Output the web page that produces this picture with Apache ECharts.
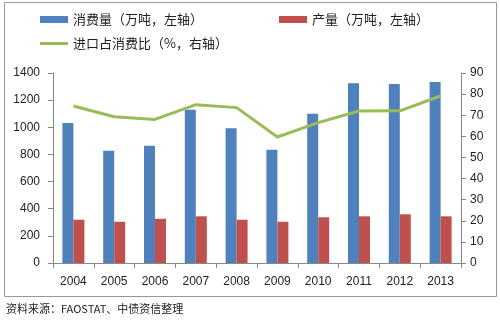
<!DOCTYPE html>
<html><head><meta charset="utf-8">
<script src="https://cdn.jsdelivr.net/npm/echarts@6/dist/echarts.min.js"></script>
<style>html,body{margin:0;padding:0;background:#fff}#c{width:500px;height:321px}</style>
</head><body><div id="c"></div>
<script>
var years = ['2004','2005','2006','2007','2008','2009','2010','2011','2012','2013'];
var consumption = [1032, 828, 864, 1130, 993, 835, 1100, 1324, 1319, 1334];
var production = [319, 304, 326, 344, 319, 304, 337, 344, 359, 344];
var importRatio = [74.4, 69.3, 68.0, 75.0, 73.6, 59.7, 66.5, 72.0, 72.1, 79.1];
var leftTicks = {min: 0, max: 1400, interval: 200};
var rightTicks = {min: 0, max: 90, interval: 10};
var names = ['消费量（万吨，左轴）', '产量（万吨，左轴）', '进口占消费比（%，右轴）'];
var source = '资料来源：FAOSTAT、中债资信整理';

var font = '"Noto Sans CJK SC", "DejaVu Sans", sans-serif';
var chart = echarts.init(document.getElementById('c'), null, {renderer: 'canvas'});
var axisLabel = {color: '#222', fontSize: 12, fontFamily: '"Liberation Sans", Arial, sans-serif'};
var legendText = {color: '#222', fontSize: 13, fontFamily: font};
function plain(v) { return String(v); }
chart.setOption({
  animation: false,
  textStyle: {fontFamily: font},
  graphic: [
    {type: 'rect', shape: {x: 4.5, y: 2.5, width: 492, height: 294}, style: {fill: 'none', stroke: '#999', lineWidth: 1}, z: -1},
    {type: 'text', left: 6, top: 303, style: {text: source, fontSize: 11, fill: '#222', fontFamily: font}}
  ],
  legend: [
    {data: [names[0]], left: 40, top: 13, icon: 'rect', itemWidth: 28, itemHeight: 7, textStyle: legendText, padding: 0},
    {data: [names[1]], left: 279, top: 13, icon: 'rect', itemWidth: 28, itemHeight: 7, textStyle: legendText, padding: 0},
    {data: [names[2]], left: 40, top: 37, icon: 'rect', itemWidth: 28, itemHeight: 3, textStyle: legendText, padding: 0}
  ],
  grid: {left: 53, right: 39, top: 73, bottom: 58},
  xAxis: {
    type: 'category', data: years, boundaryGap: true,
    axisLine: {lineStyle: {color: '#888'}},
    axisTick: {show: true, length: 5, lineStyle: {color: '#888'}},
    axisLabel: Object.assign({margin: 13}, axisLabel)
  },
  yAxis: [
    {type: 'value', min: leftTicks.min, max: leftTicks.max, interval: leftTicks.interval,
     axisLine: {show: true, lineStyle: {color: '#888'}}, axisTick: {show: true, length: 5, lineStyle: {color: '#888'}},
     splitLine: {show: false}, axisLabel: Object.assign({margin: 13, formatter: plain}, axisLabel)},
    {type: 'value', min: rightTicks.min, max: rightTicks.max, interval: rightTicks.interval, position: 'right',
     axisLine: {show: true, lineStyle: {color: '#888'}}, axisTick: {show: true, length: 5, lineStyle: {color: '#888'}},
     splitLine: {show: false}, axisLabel: Object.assign({margin: 9, formatter: plain}, axisLabel)}
  ],
  series: [
    {name: names[0], type: 'bar', data: consumption, barWidth: 11, barGap: '0%', itemStyle: {color: '#4F81BD'}},
    {name: names[1], type: 'bar', data: production, barWidth: 11, barGap: '0%', itemStyle: {color: '#C0504D'}},
    {name: names[2], type: 'line', yAxisIndex: 1, data: importRatio, symbol: 'none', itemStyle: {color: '#9BBB59'}, lineStyle: {color: '#9BBB59', width: 3}}
  ]
});
</script></body></html>
